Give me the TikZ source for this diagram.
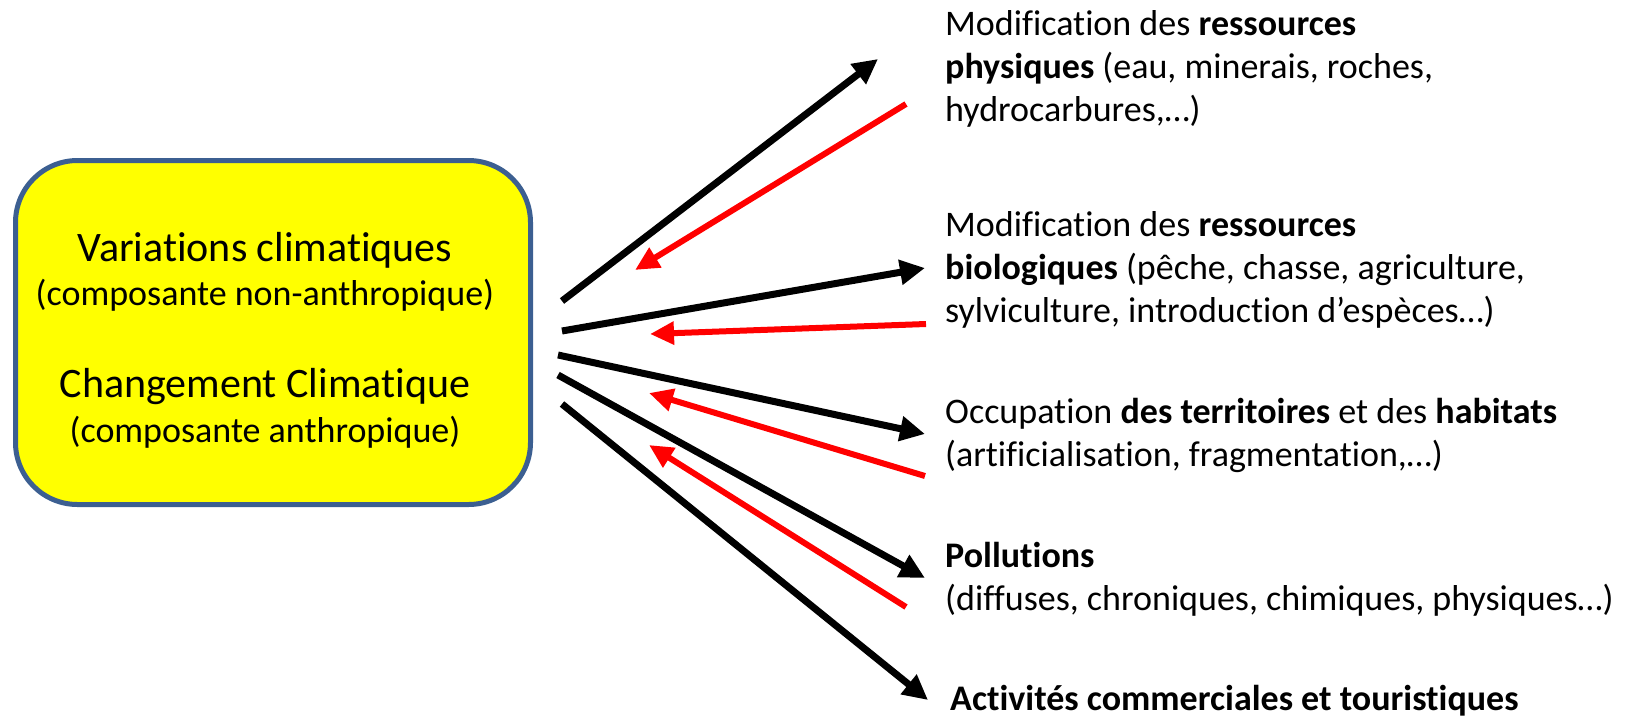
\documentclass[tikz,border=0pt]{standalone}
\usepackage{fontspec}
\setmainfont[Ligatures={NoCommon}]{Carlito}
\usetikzlibrary{arrows.meta}
\definecolor{boxfill}{RGB}{255,255,0}
\definecolor{boxline}{RGB}{60,95,145}
\definecolor{fbred}{RGB}{255,0,0}
\begin{document}
\begin{tikzpicture}[x=1pt,y=-1pt,
  fwd/.style={line width=7pt,black,-{Triangle[length=25pt,width=24pt]}},
  bwd/.style={line width=6pt,fbred,-{Triangle[length=24pt,width=22pt]}},
  lbl/.style={anchor=west,align=left,inner sep=0pt,font=\fontsize{36}{43}\selectfont},
  big/.style={inner sep=0pt,font=\fontsize{42}{48}\selectfont},
  small/.style={inner sep=0pt,font=\fontsize{36}{44}\selectfont},
  box/.style={draw=boxline,fill=boxfill,line width=5pt,rounded corners=62pt,
    minimum width=515pt,minimum height=344pt,inner sep=0pt}]
\useasboundingbox (0,0) rectangle (1628,718);

\node[box] (src) at (273,332.5) {};
\node[big] (v1) at (265,250) {Variations climatiques};
\node[small] (v2) at (265,295) {(composante non-anthropique)};
\node[big] (c1) at (265,387) {Changement Climatique};
\node[small] (c2) at (265,432) {(composante anthropique)};

\node[lbl] (t1) at (945,69) {Modification des \textbf{ressources}\\\textbf{physiques} (eau, minerais, roches,\\hydrocarbures,…)};
\node[lbl] (t2) at (945,270) {Modification des \textbf{ressources}\\\textbf{biologiques} (pêche, chasse, agriculture,\\sylviculture, introduction d’espèces…)};
\node[lbl] (t3) at (945,435) {Occupation \textbf{des territoires} et des \textbf{habitats}\\(artificialisation, fragmentation,…)};
\node[lbl] (t4) at (945,579) {\textbf{Pollutions}\\(diffuses, chroniques, chimiques, physiques…)};
\node[lbl] (t5) at (950,701) {\textbf{Activités commerciales et touristiques}};

% black arrow endpoints
\coordinate (b1s) at (562,301); \coordinate (b1e) at (878,59);
\coordinate (b2s) at (562,331); \coordinate (b2e) at (925,268);
\coordinate (b3s) at (558,355); \coordinate (b3e) at (925,434);
\coordinate (b4s) at (558,375); \coordinate (b4e) at (925,578);
\coordinate (b5s) at (562,404); \coordinate (b5e) at (928,700);
% red arrow endpoints
\coordinate (r1s) at (906,104); \coordinate (r1e) at (635,270);
\coordinate (r2s) at (926,324); \coordinate (r2e) at (650,334);
\coordinate (r3s) at (925,476); \coordinate (r3e) at (649,393);
\coordinate (r4s) at (906,607); \coordinate (r4e) at (649,445);

\draw[fwd] (b1s) -- (b1e);
\draw[fwd] (b2s) -- (b2e);
\draw[fwd] (b3s) -- (b3e);
\draw[fwd] (b4s) -- (b4e);
\draw[fwd] (b5s) -- (b5e);
\draw[bwd] (r1s) -- (r1e);
\draw[bwd] (r2s) -- (r2e);
\draw[bwd] (r3s) -- (r3e);
\draw[bwd] (r4s) -- (r4e);
\end{tikzpicture}
\end{document}
